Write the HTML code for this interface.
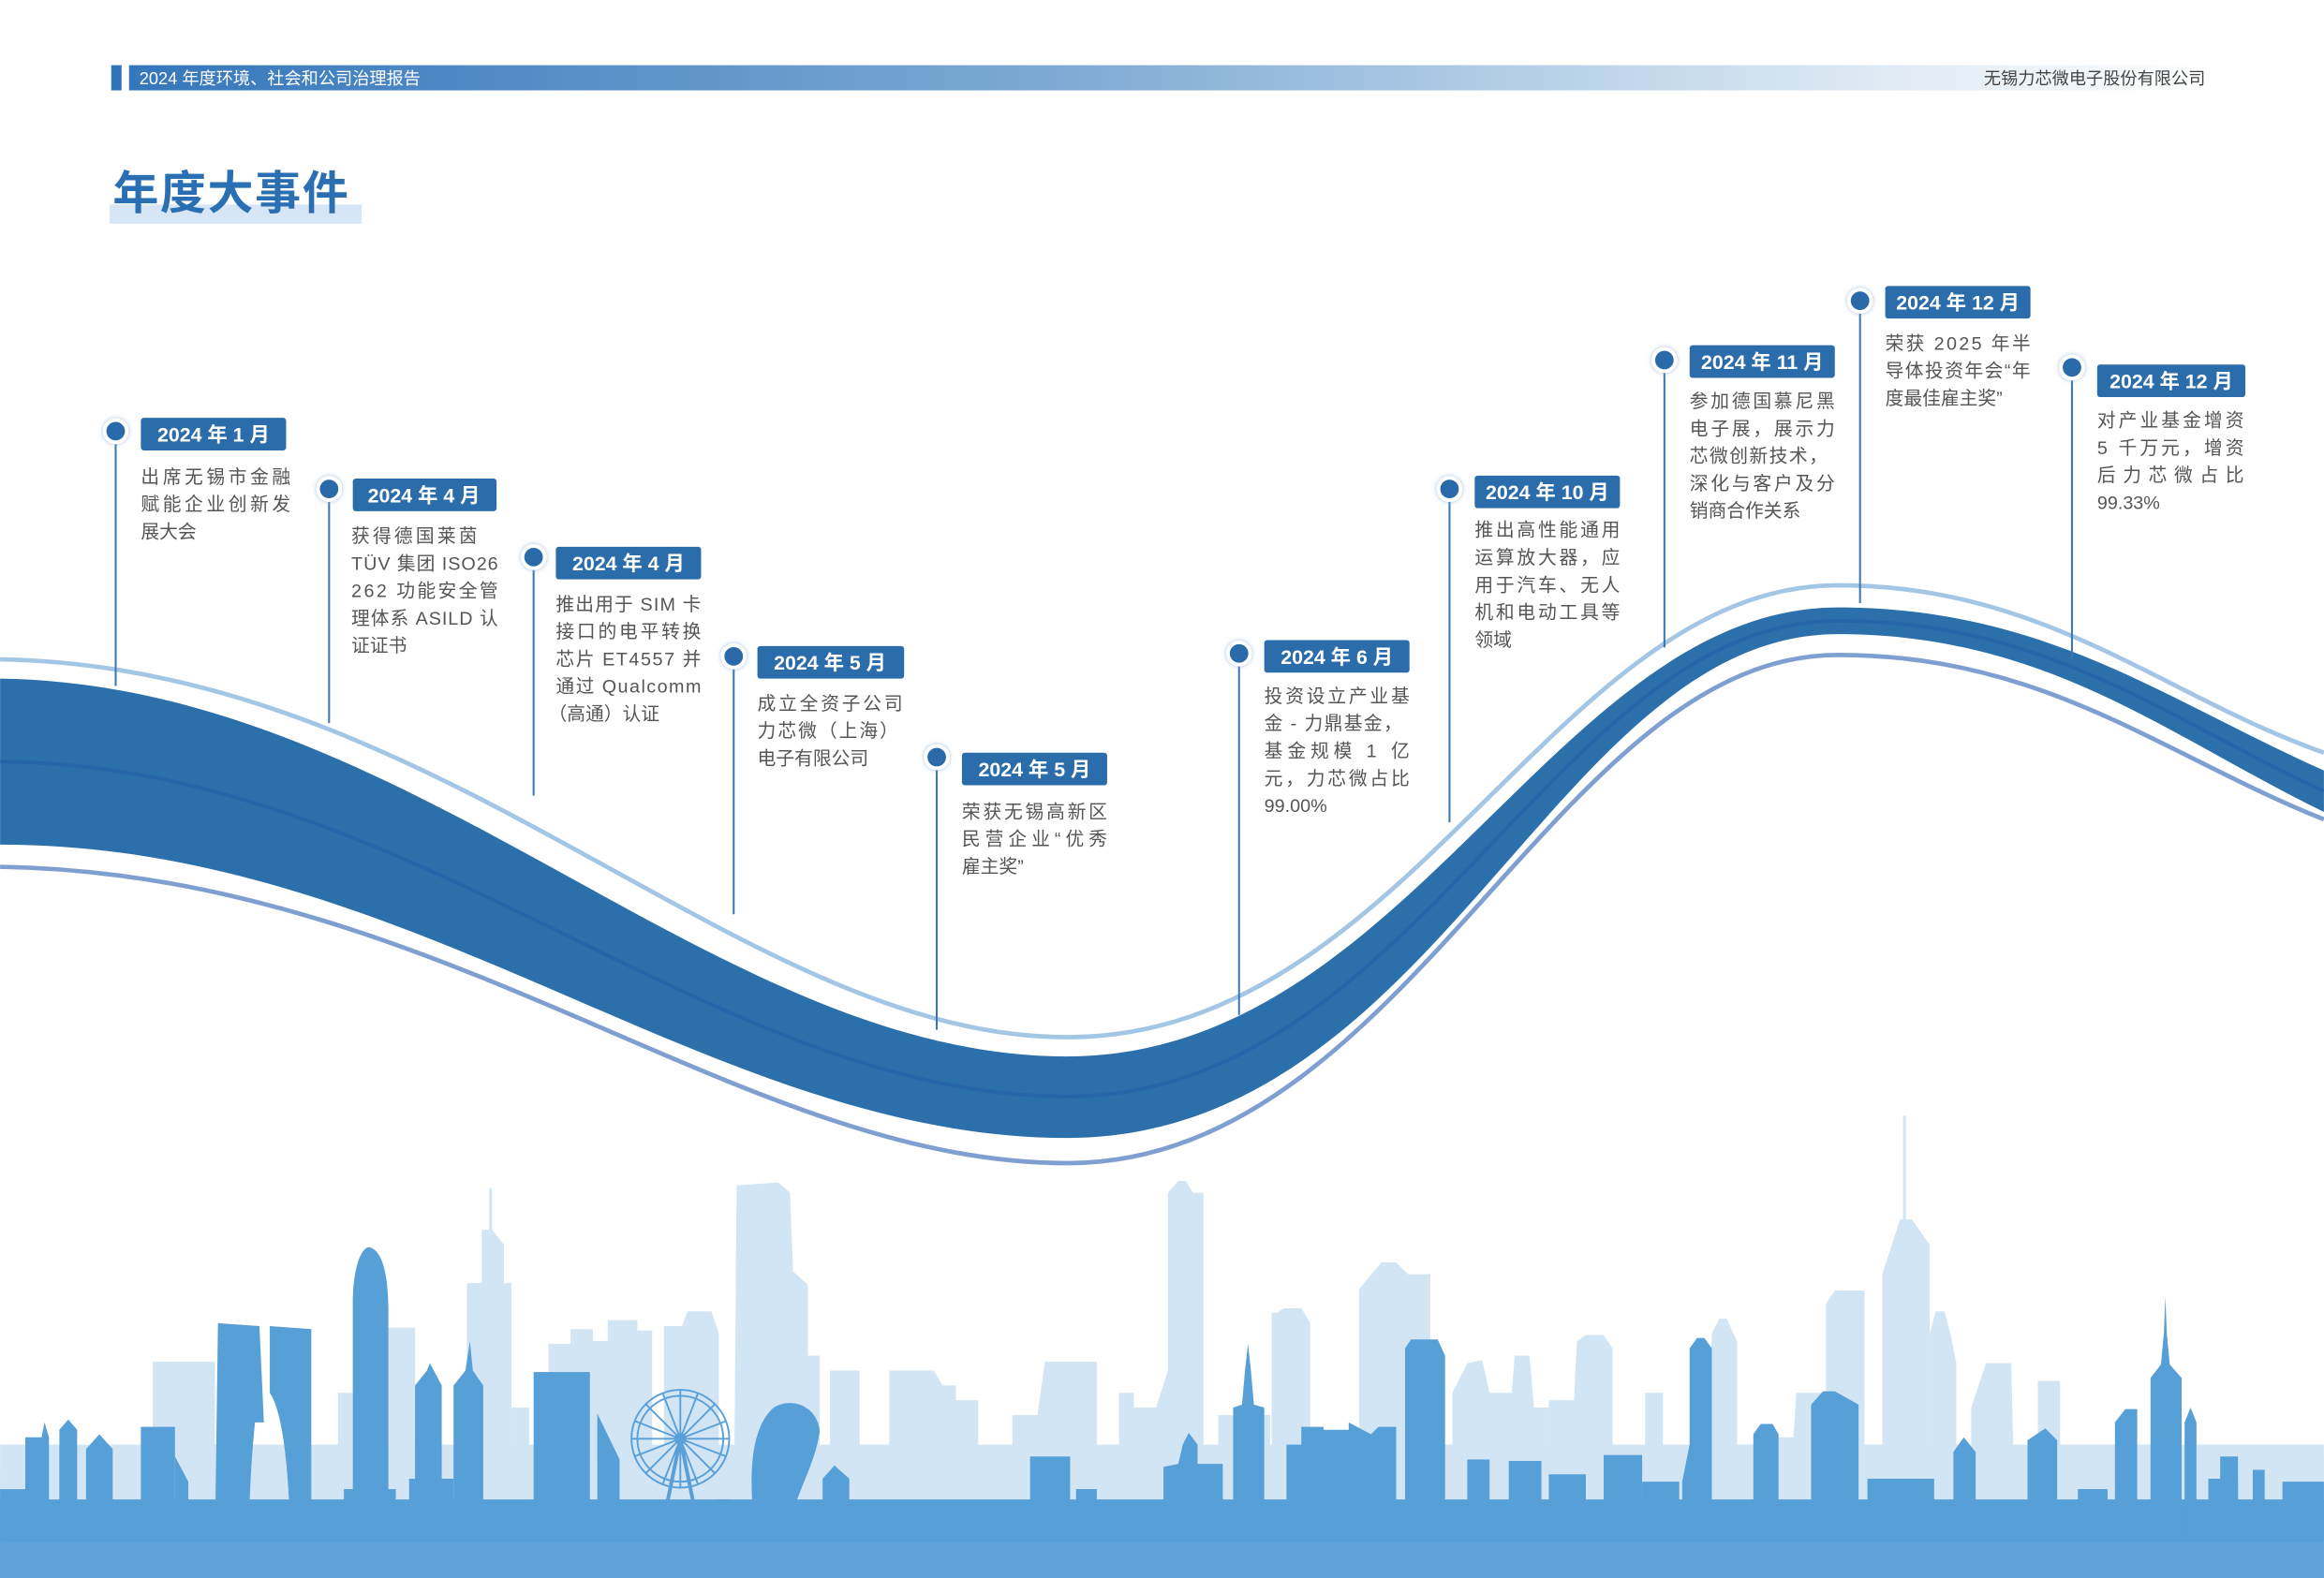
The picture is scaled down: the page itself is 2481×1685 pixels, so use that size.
<!DOCTYPE html>
<html><head><meta charset="utf-8"><style>
html,body{margin:0;padding:0;background:#fff;}
svg{display:block;}
.t{font-family:"Liberation Sans","Noto Sans CJK SC",sans-serif;font-size:12.5px;fill:#555;}
.d{font-family:"Liberation Sans","Noto Sans CJK SC",sans-serif;font-size:13.5px;font-weight:bold;fill:#fff;}
.bx{fill:#2b6dab;}
.vl{stroke:#3a78b5;stroke-width:1.3;}
.dot{fill:#2b6aa8;stroke:#fff;stroke-width:2.5;}
.L{fill:#d2e5f4;}
.D{fill:#579fd7;}
</style></head><body>
<svg width="2481" height="1685" viewBox="0 0 1568 1065" xmlns="http://www.w3.org/2000/svg">
<defs>
<linearGradient id="hg" x1="0" x2="1" y1="0" y2="0">
<stop offset="0" stop-color="#3577bb"/><stop offset="0.45" stop-color="#7eaad4"/><stop offset="0.8" stop-color="#d5e4f1"/><stop offset="1" stop-color="#ffffff"/>
</linearGradient>
<filter id="gl" x="-1" y="-1" width="3" height="3"><feDropShadow dx="0" dy="0" stdDeviation="1.5" flood-color="#7fa8d8" flood-opacity="0.7"/></filter>
</defs>
<!-- header -->
<rect x="75" y="44" width="7" height="17" fill="#2f73b8"/>
<rect x="87" y="44" width="1405" height="17" fill="url(#hg)"/>
<text x="94" y="57" style="font-family:'Liberation Sans','Noto Sans CJK SC',sans-serif;font-size:11.5px;fill:#fff">2024 年度环境、社会和公司治理报告</text>
<text x="1488" y="57" text-anchor="end" style="font-family:'Liberation Sans','Noto Sans CJK SC',sans-serif;font-size:11.5px;fill:#444">无锡力芯微电子股份有限公司</text>
<!-- title -->
<rect x="74" y="138" width="170" height="13" fill="#d6e6f7"/>
<text x="76" y="141" style="font-family:'Liberation Sans','Noto Sans CJK SC',sans-serif;font-size:31px;font-weight:bold;fill:#2b6fb3;letter-spacing:1px">年度大事件</text>

<!-- skyline light -->
<g class="L">
<rect x="0" y="975" width="1568" height="70"/>
<rect x="0" y="993" width="10" height="50"/>
<rect x="5" y="978" width="40" height="60"/>
<rect x="80" y="978" width="40" height="60"/>
<rect x="103" y="919" width="42" height="120"/>
<polygon points="315,866 325,866 325,830 330,830 330,802 332,802 332,830 340,840 340,866 345,866 345,1040 315,1040"/>
<rect x="345" y="950" width="12" height="90"/>
<rect x="228" y="940" width="20" height="100"/>
<rect x="262" y="896" width="18" height="144"/>
<polygon points="370,907 385,907 385,897 400,897 400,905 410,905 410,891 430,891 430,898 440,898 440,1040 370,1040"/>
<polygon points="448,895 460,895 464,885 480,885 485,900 485,1040 448,1040"/>
<polygon points="497,800 525,798 533,805 535,858 545,867 545,915 553,915 553,1040 495,1040"/>
<rect x="560" y="925" width="20" height="115"/>
<polygon points="600,925 630,925 636,935 645,935 645,945 660,945 660,1040 600,1040"/>
<polygon points="683,955 700,955 705,919 740,919 740,1040 683,1040"/>
<polygon points="755,940 765,940 765,950 780,950 788,925 788,805 795,797 800,797 805,805 812,805 812,1040 755,1040"/>
<rect x="822" y="955" width="35" height="85"/>
<polygon points="858,886 862,886 866,883 878,883 884,893 884,1040 858,1040"/>
<polygon points="917,870 932,852 942,852 950,860 965,860 965,1040 917,1040"/>
<polygon points="980,940 990,920 1000,918 1005,940 1020,940 1022,915 1032,915 1035,950 1045,950 1045,1040 980,1040"/>
<polygon points="1045,945 1062,945 1064,905 1070,901 1082,901 1088,910 1088,1040 1045,1040"/>
<rect x="1110" y="940" width="12" height="100"/>
<polygon points="1155,900 1160,890 1165,890 1172,905 1172,1040 1150,1040"/>
<polygon points="1192,970 1210,970 1212,940 1232,940 1232,880 1238,871 1258,871 1258,1040 1192,1040"/>
<polygon points="1270,860 1282,823 1284,823 1284,753 1286,753 1286,823 1290,823 1302,840 1302,1040 1270,1040"/>
<polygon points="1302,900 1306,885 1312,885 1316,900 1320,920 1320,1040 1302,1040"/>
<polygon points="1330,950 1340,920 1357,920 1360,1040 1330,1040"/>
<rect x="1375" y="932" width="15" height="108"/>
<rect x="1395" y="980" width="50" height="60"/>
<rect x="1530" y="983" width="38" height="60"/>
</g>
<!-- skyline dark -->
<g class="D">
<rect x="0" y="1012" width="1568" height="53"/>
<polygon points="0,1005 18,1005 18,1040 0,1040"/>
<polygon points="17,1040 17,970 28,970 30,960 33,970 33,1040"/>
<polygon points="40,1040 40,965 46,958 52,965 52,1040"/>
<polygon points="58,1040 58,978 67,968 76,978 76,1040"/>
<rect x="95" y="963" width="23" height="77"/>
<polygon points="118,1040 118,983 127,1000 127,1040"/>
<path d="M145,1040 L147,893 L175,895 L178,960 L172,960 C168,1000 168,1030 168,1040 Z"/>
<path d="M182,1040 L182,895 L210,897 L210,1040 L196,1040 C195,1000 192,955 182,940 Z"/>
<path d="M238,1040 L238,880 C238,850 246,840 250,842 C258,845 262,860 262,885 L262,1040 Z"/>
<rect x="232" y="1005" width="35" height="35"/>
<polygon points="280,1040 280,935 288,925 290,920 298,935 298,1040"/>
<rect x="276" y="998" width="30" height="42"/>
<polygon points="306,1040 306,935 314,925 317,905 319,925 326,935 326,1040"/>
<rect x="326" y="1014" width="28" height="26"/>
<rect x="360" y="926" width="38" height="114"/>
<polygon points="403,1040 403,954 418,985 418,1040"/>
<rect x="427" y="1018" width="20" height="22"/>
<rect x="483" y="1012" width="10" height="28"/>
<path d="M510,1040 C505,1000 505,965 522,950 C535,942 552,950 553,966 C550,990 535,1010 530,1040 Z"/>
<polygon points="555,1040 555,998 563,989 573,998 573,1040"/>
<rect x="578" y="1022" width="30" height="18"/>
<rect x="632" y="1022" width="30" height="18"/>
<rect x="695" y="983" width="27" height="57"/>
<rect x="726" y="1005" width="14" height="35"/>
<rect x="755" y="1018" width="30" height="22"/>
<polygon points="785,1040 785,990 795,988 798,975 802,967 808,975 808,988 825,988 825,1040"/>
<polygon points="832,1040 832,950 838,948 840,925 842,907 844,925 846,948 853,950 853,1040"/>
<polygon points="868,1040 868,975 878,975 878,963 893,963 893,965 910,965 910,960 925,968 930,963 942,963 942,1040"/>
<polygon points="948,1040 948,910 952,904 970,904 975,915 975,1040"/>
<rect x="990" y="985" width="15" height="55"/>
<rect x="1018" y="986" width="22" height="54"/>
<rect x="1045" y="995" width="25" height="45"/>
<rect x="1082" y="982" width="26" height="58"/>
<rect x="1108" y="1000" width="25" height="40"/>
<polygon points="1135,1040 1135,1000 1140,975 1140,910 1145,903 1150,903 1155,910 1155,1040"/>
<polygon points="1183,1040 1183,968 1188,961 1196,961 1200,968 1200,1040"/>
<polygon points="1222,1040 1222,948 1230,939 1238,939 1254,948 1254,1040"/>
<rect x="1260" y="998" width="45" height="42"/>
<polygon points="1318,1040 1318,980 1325,970 1333,980 1333,1040"/>
<polygon points="1368,1040 1368,972 1380,964 1388,972 1388,1040"/>
<rect x="1402" y="1005" width="20" height="35"/>
<polygon points="1427,1040 1427,960 1434,951 1442,951 1442,1040"/>
<polygon points="1451,1040 1451,930 1458,921 1460,900 1461,875 1462,900 1464,921 1472,930 1472,1040"/>
<polygon points="1474,1040 1474,960 1478,950 1482,960 1482,1040"/>
<rect x="1490" y="998" width="20" height="42"/>
<rect x="1498" y="983" width="12" height="57"/>
<rect x="1520" y="992" width="8" height="48"/>
<rect x="1540" y="1000" width="28" height="40"/>
</g>
<!-- ferris wheel -->
<g fill="none" stroke="#5a9fd8" stroke-width="1.2">
<circle cx="459" cy="971" r="33"/>
<circle cx="459" cy="971" r="29"/>
<line x1="426" y1="971" x2="492" y2="971"/><line x1="459" y1="938" x2="459" y2="1004"/>
<line x1="436" y1="948" x2="482" y2="994"/><line x1="482" y1="948" x2="436" y2="994"/>
<line x1="447" y1="940" x2="471" y2="1002"/><line x1="471" y1="940" x2="447" y2="1002"/>
<line x1="428" y1="959" x2="490" y2="983"/><line x1="490" y1="959" x2="428" y2="983"/>
<line x1="459" y1="971" x2="445" y2="1040" stroke-width="2.5"/><line x1="459" y1="971" x2="473" y2="1040" stroke-width="2.5"/>
</g>
<circle cx="459" cy="971" r="4" fill="#5a9fd8"/>
<rect x="0" y="1041" width="1568" height="24" fill="#5ea3da"/>

<!-- waves -->
<path d="M0,445 C300,450 500,700 720,700 C950,700 1050,395 1240,395 C1380,395 1460,470 1568,508" fill="none" stroke="#a3c6e5" stroke-width="3"/>
<path d="M0,585 C300,590 500,785 720,785 C950,785 1050,442 1240,442 C1380,442 1460,510 1568,553" fill="none" stroke="#7f9fd0" stroke-width="3"/>
<path d="M0,458 C280,462 480,713 720,713 C950,713 1050,410 1240,410 C1380,410 1460,472 1568,520 L1568,548 C1460,495 1380,428 1240,428 C1050,428 970,768 720,768 C480,768 280,570 0,570 Z" fill="#2c70ab"/>
<path d="M0,514 C280,516 480,740 720,740 C955,740 1050,419 1240,419 C1380,419 1460,484 1568,534" fill="none" stroke="#2563aa" stroke-width="2.5" opacity="0.8"/>

<!-- event lines -->
<g class="vl">
<line x1="78" y1="291" x2="78" y2="463"/>
<line x1="222" y1="330" x2="222" y2="488"/>
<line x1="360" y1="376" x2="360" y2="537"/>
<line x1="495" y1="443" x2="495" y2="617"/>
<line x1="632" y1="511" x2="632" y2="695"/>
<line x1="836" y1="441" x2="836" y2="685"/>
<line x1="978" y1="330" x2="978" y2="555"/>
<line x1="1123" y1="243" x2="1123" y2="437"/>
<line x1="1255" y1="203" x2="1255" y2="407"/>
<line x1="1398" y1="248" x2="1398" y2="445"/>
</g>
<g class="dot" filter="url(#gl)">
<circle cx="78" cy="291" r="7.5"/><circle cx="222" cy="330" r="7.5"/><circle cx="360" cy="376" r="7.5"/>
<circle cx="495" cy="443" r="7.5"/><circle cx="632" cy="511" r="7.5"/><circle cx="836" cy="441" r="7.5"/>
<circle cx="978" cy="330" r="7.5"/><circle cx="1123" cy="243" r="7.5"/><circle cx="1255" cy="203" r="7.5"/>
<circle cx="1398" cy="248" r="7.5"/>
</g>
<!-- boxes -->
<g class="bx">
<rect x="95" y="282" width="98" height="22" rx="2"/>
<rect x="238" y="323" width="97" height="22" rx="2"/>
<rect x="375" y="369" width="98" height="22" rx="2"/>
<rect x="511" y="436" width="99" height="22" rx="2"/>
<rect x="649" y="508" width="98" height="22" rx="2"/>
<rect x="853" y="432" width="98" height="22" rx="2"/>
<rect x="995" y="321" width="98" height="22" rx="2"/>
<rect x="1140" y="233" width="98" height="22" rx="2"/>
<rect x="1272" y="193" width="98" height="22" rx="2"/>
<rect x="1415" y="246" width="100" height="22" rx="2"/>
</g>
<g class="d" text-anchor="middle">
<text x="144" y="298">2024 年 1 月</text>
<text x="286" y="339">2024 年 4 月</text>
<text x="424" y="385">2024 年 4 月</text>
<text x="560" y="452">2024 年 5 月</text>
<text x="698" y="524">2024 年 5 月</text>
<text x="902" y="448">2024 年 6 月</text>
<text x="1044" y="337">2024 年 10 月</text>
<text x="1189" y="249">2024 年 11 月</text>
<text x="1321" y="209">2024 年 12 月</text>
<text x="1465" y="262">2024 年 12 月</text>
</g>
<!-- texts -->
<g class="t">
<text x="95" y="326" textLength="101" lengthAdjust="spacing">出席无锡市金融</text>
<text x="95" y="344.5" textLength="101" lengthAdjust="spacing">赋能企业创新发</text>
<text x="95" y="363">展大会</text>

<text x="237" y="366" textLength="85" lengthAdjust="spacing">获得德国莱茵</text>
<text x="237" y="384.5" textLength="99" lengthAdjust="spacing">TÜV 集团 ISO26</text>
<text x="237" y="403" textLength="99" lengthAdjust="spacing">262 功能安全管</text>
<text x="237" y="421.5" textLength="99" lengthAdjust="spacing">理体系 ASILD 认</text>
<text x="237" y="440">证证书</text>

<text x="375" y="412" textLength="98" lengthAdjust="spacing">推出用于 SIM 卡</text>
<text x="375" y="430.5" textLength="98" lengthAdjust="spacing">接口的电平转换</text>
<text x="375" y="449" textLength="98" lengthAdjust="spacing">芯片 ET4557 并</text>
<text x="375" y="467.5" textLength="98" lengthAdjust="spacing">通过 Qualcomm</text>
<text x="370" y="486">（高通）认证</text>

<text x="511" y="479" textLength="98" lengthAdjust="spacing">成立全资子公司</text>
<text x="511" y="497.5" textLength="95" lengthAdjust="spacing">力芯微（上海）</text>
<text x="511" y="516">电子有限公司</text>

<text x="649" y="552" textLength="98" lengthAdjust="spacing">荣获无锡高新区</text>
<text x="649" y="570.5" textLength="98" lengthAdjust="spacing">民营企业“优秀</text>
<text x="649" y="589">雇主奖”</text>

<text x="853" y="474" textLength="98" lengthAdjust="spacing">投资设立产业基</text>
<text x="853" y="492.5" textLength="93" lengthAdjust="spacing">金 - 力鼎基金，</text>
<text x="853" y="511" textLength="98" lengthAdjust="spacing">基金规模 1 亿</text>
<text x="853" y="529.5" textLength="98" lengthAdjust="spacing">元，力芯微占比</text>
<text x="853" y="548">99.00%</text>

<text x="995" y="362" textLength="98" lengthAdjust="spacing">推出高性能通用</text>
<text x="995" y="380.5" textLength="98" lengthAdjust="spacing">运算放大器，应</text>
<text x="995" y="399" textLength="98" lengthAdjust="spacing">用于汽车、无人</text>
<text x="995" y="417.5" textLength="98" lengthAdjust="spacing">机和电动工具等</text>
<text x="995" y="436">领域</text>

<text x="1140" y="275" textLength="98" lengthAdjust="spacing">参加德国慕尼黑</text>
<text x="1140" y="293.5" textLength="98" lengthAdjust="spacing">电子展，展示力</text>
<text x="1140" y="312" textLength="93" lengthAdjust="spacing">芯微创新技术，</text>
<text x="1140" y="330.5" textLength="98" lengthAdjust="spacing">深化与客户及分</text>
<text x="1140" y="349">销商合作关系</text>

<text x="1272" y="236" textLength="98" lengthAdjust="spacing">荣获 2025 年半</text>
<text x="1272" y="254.5" textLength="98" lengthAdjust="spacing">导体投资年会“年</text>
<text x="1272" y="273">度最佳雇主奖”</text>

<text x="1415" y="288" textLength="99" lengthAdjust="spacing">对产业基金增资</text>
<text x="1415" y="306.5" textLength="99" lengthAdjust="spacing">5 千万元，增资</text>
<text x="1415" y="325" textLength="99" lengthAdjust="spacing">后力芯微占比</text>
<text x="1415" y="343.5">99.33%</text>
</g>
</svg>
</body></html>
